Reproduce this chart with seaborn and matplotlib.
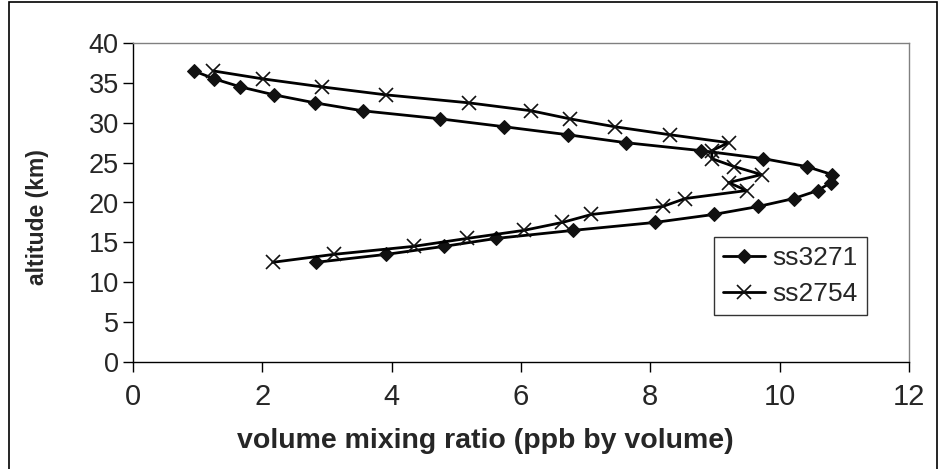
import matplotlib
matplotlib.use("Agg")
import matplotlib.pyplot as plt
import seaborn as sns
import pandas as pd
from matplotlib.patches import Rectangle

altitude = [36.5, 35.5, 34.5, 33.5, 32.5, 31.5, 30.5, 29.5, 28.5, 27.5, 26.5, 25.5,
            24.5, 23.5, 22.5, 21.5, 20.5, 19.5, 18.5, 17.5, 16.5, 15.5, 14.5, 13.5, 12.5]
ss3271 = [0.94, 1.26, 1.66, 2.18, 2.81, 3.55, 4.74, 5.74, 6.72, 7.62, 8.79, 9.75,
          10.42, 10.81, 10.79, 10.59, 10.22, 9.67, 8.98, 8.07, 6.8, 5.62, 4.81, 3.92, 2.83]
ss2754 = [1.24, 2.01, 2.92, 3.91, 5.19, 6.16, 6.75, 7.45, 8.3, 9.21, 8.95, 8.95,
          9.3, 9.72, 9.21, 9.49, 8.54, 8.19, 7.09, 6.64, 6.04, 5.17, 4.34, 3.11, 2.16]
x_ticks = [0, 2, 4, 6, 8, 10, 12]
y_ticks = [0, 5, 10, 15, 20, 25, 30, 35, 40]

sns.set_theme(style="white")
plt.rcParams['font.family'] = ['Liberation Sans', 'DejaVu Sans']

fig = plt.figure(figsize=(9.45, 4.69), dpi=100)
ax = fig.add_axes([133/945, 1-362/469, 776/945, 319/469])

df1 = pd.DataFrame({"x": ss3271, "y": altitude})
df2 = pd.DataFrame({"x": ss2754, "y": altitude})
sns.lineplot(data=df1, x="x", y="y", sort=False, ax=ax, color="black", lw=2,
             marker="D", markersize=7.5, markeredgecolor="#111111", markerfacecolor="#111111",
             label="ss3271", estimator=None)
sns.lineplot(data=df2, x="x", y="y", sort=False, ax=ax, color="black", lw=2,
             marker="x", markersize=9.5, markeredgewidth=1.2, markeredgecolor="#111111",
             label="ss2754", estimator=None)

ax.set_xlim(0, 12)
ax.set_ylim(0, 40)
ax.set_xticks(x_ticks)
ax.set_yticks(y_ticks)
ax.set_xticklabels([str(t) for t in x_ticks], fontsize=21)
ax.set_yticklabels([str(t) for t in y_ticks], fontsize=19.5)
ax.tick_params(axis='x', direction='out', length=7.2, width=1, color='black', pad=8, bottom=True)
ax.tick_params(axis='y', direction='out', length=7.2, width=1, color='black', pad=3, left=True)
ax.set_xlabel("volume mixing ratio (ppb by volume)", fontsize=20.5, fontweight='bold')
ax.set_ylabel("altitude (km)", fontsize=16.5, fontweight='bold')
ax.xaxis.set_label_coords((485-133)/776, 1-(441-43)/319)
ax.yaxis.set_label_coords((37-133)/776, 1-(217-43)/319)
ax.xaxis.label.set_va('center')
ax.yaxis.label.set_va('center')

for s in ['top', 'right']:
    ax.spines[s].set_color('#808080')
    ax.spines[s].set_linewidth(1)
for s in ['left', 'bottom']:
    ax.spines[s].set_color('black')
    ax.spines[s].set_linewidth(1)
ax.grid(False)

leg = ax.legend(loc='upper left', bbox_to_anchor=((714-133)/776, 1-(237-43)/319), fontsize=19,
                frameon=True, fancybox=False, borderpad=0.35, handlelength=1.6,
                handletextpad=0.25, labelspacing=0.45, borderaxespad=0)
leg.get_frame().set_edgecolor('black')
leg.get_frame().set_linewidth(1)

fig.patches.append(Rectangle((9/945, -0.05), 928/945, 1.05 - 2/469, transform=fig.transFigure,
                             fill=False, edgecolor='black', lw=1.2))

fig.savefig("out.png", dpi=100)
